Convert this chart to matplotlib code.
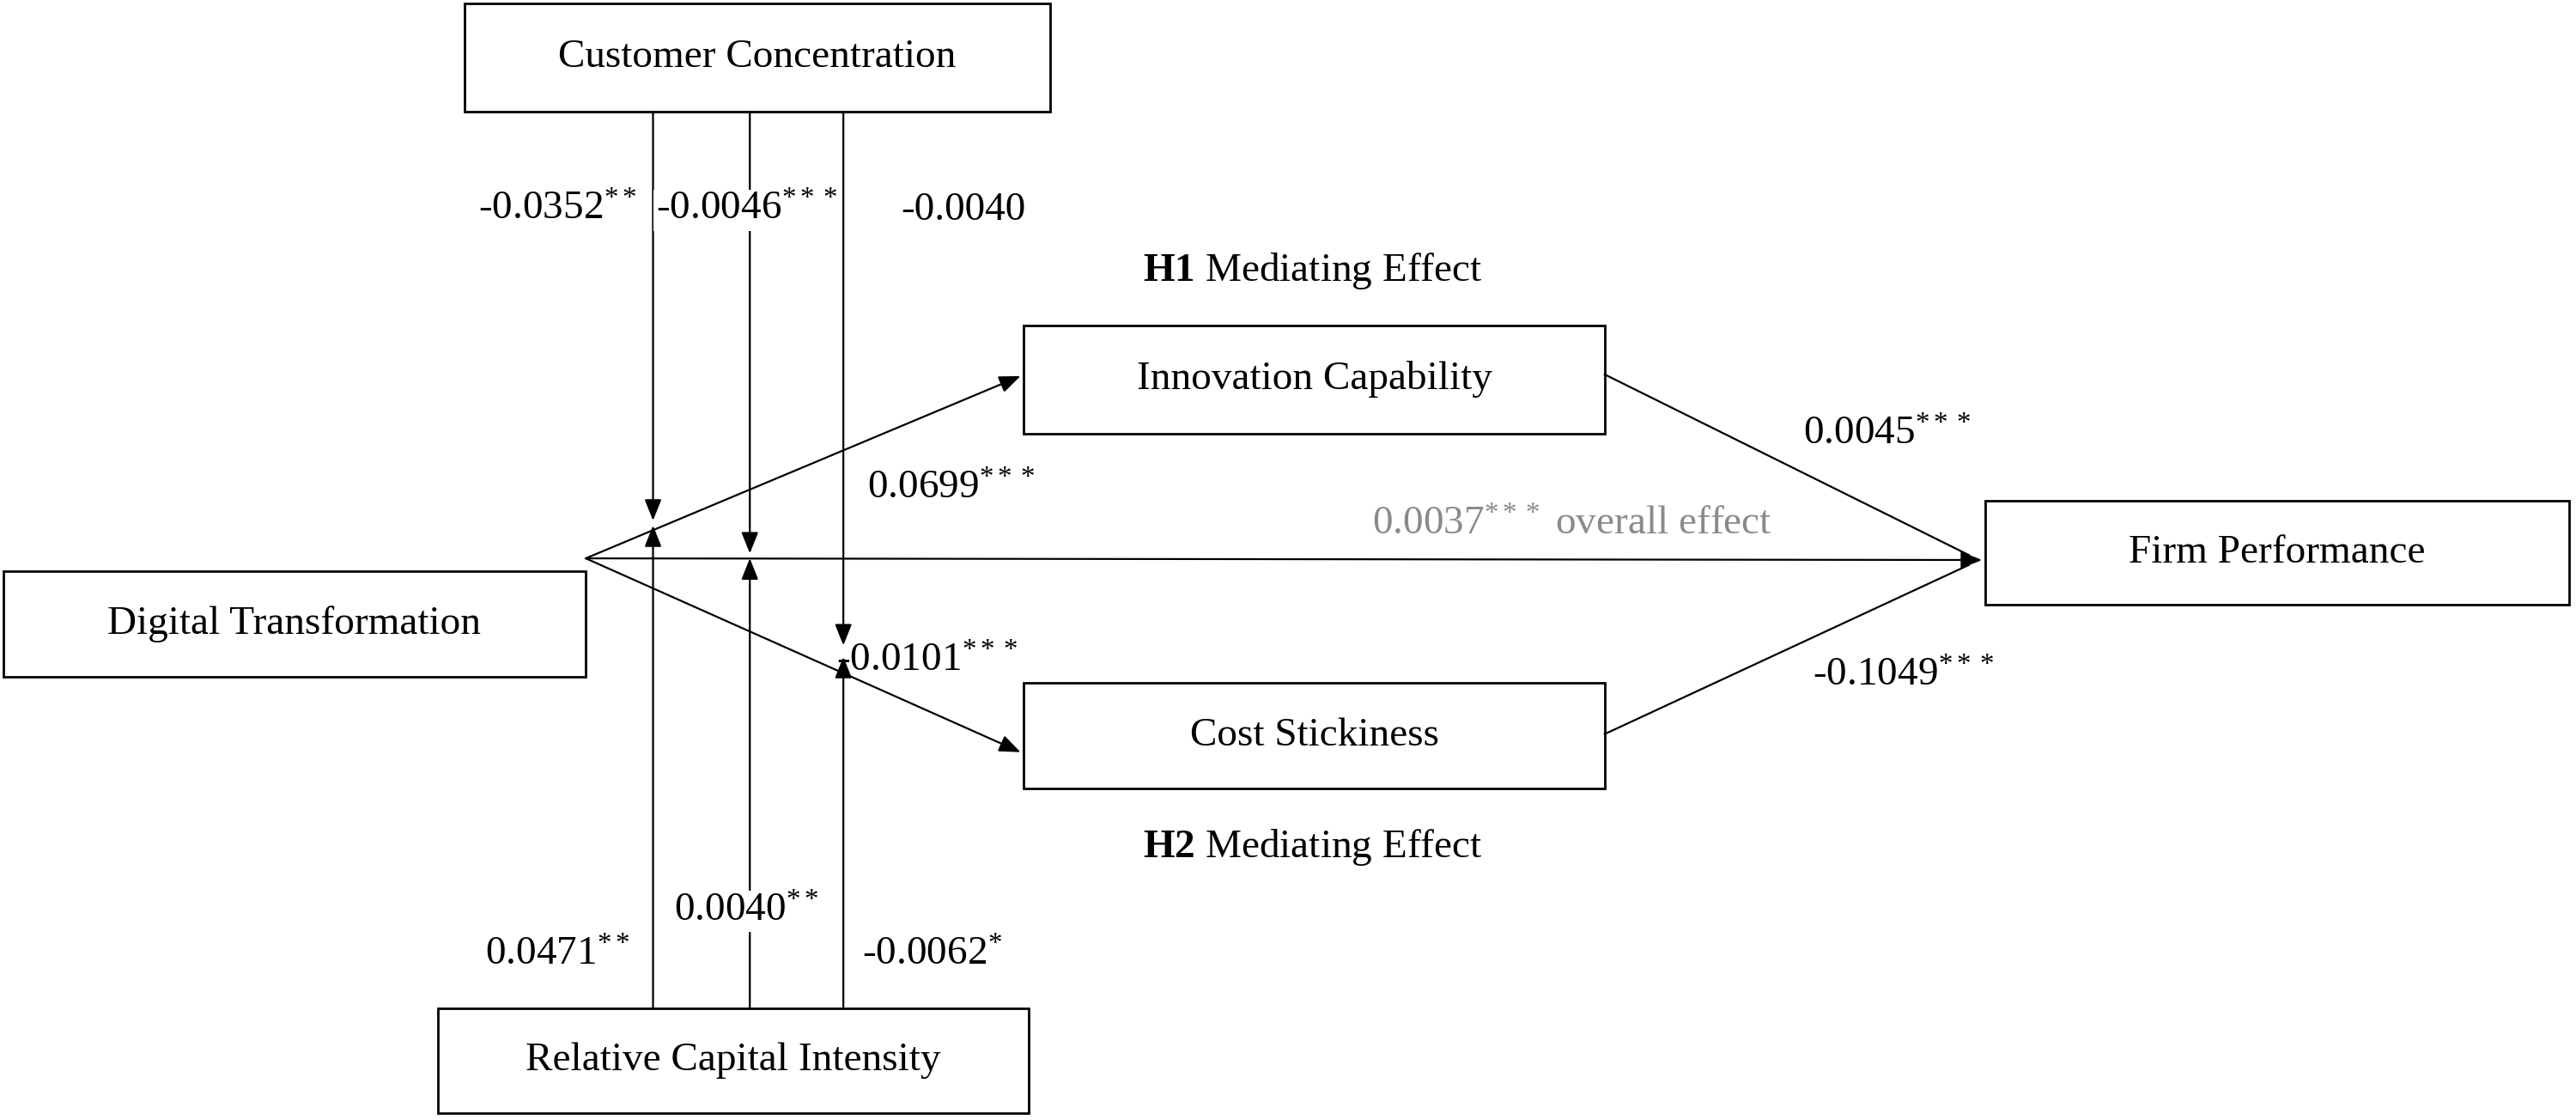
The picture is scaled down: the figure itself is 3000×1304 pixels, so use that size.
import matplotlib
matplotlib.use("Agg")
import matplotlib.pyplot as plt
from matplotlib.patches import Rectangle

plt.rcParams['font.family'] = ['Liberation Serif', 'DejaVu Serif']
plt.rcParams['mathtext.fontset'] = 'custom'
plt.rcParams['mathtext.rm'] = 'Liberation Serif'
plt.rcParams['mathtext.it'] = 'Liberation Serif'
plt.rcParams['mathtext.bf'] = 'Liberation Serif:bold'

# nodes: name, (x0, y0, x1, y1)
node_names = ["Customer Concentration", "Digital Transformation", "Innovation Capability",
              "Cost Stickiness", "Firm Performance", "Relative Capital Intensity"]
node_boxes = [(283, 2, 640, 68), (2, 348, 357, 412), (624, 198, 978, 264),
              (624, 416, 978, 480), (1210, 305, 1566, 368), (267, 614, 627, 678)]

coef_labels = [r"-0.0352$^{**}$", r"-0.0046$^{***}$", "-0.0040",
               r"0.0699$^{***}$", r"0.0045$^{***}$", r"-0.0101$^{***}$", r"-0.1049$^{***}$",
               r"0.0471$^{**}$", r"0.0040$^{**}$", r"-0.0062$^{*}$"]
coef_pos = [(340, 128), (455, 128), (587, 128), (580, 298), (1150, 265),
            (565, 403), (1160, 412), (340, 582), (455, 555), (568, 582)]
coef_bg = [False, True, False, False, False, False, False, False, True, False]

W, H = 1570, 682
fig = plt.figure(figsize=(30, 13.04), dpi=100)
ax = fig.add_axes([0, 0, 1, 1])
ax.set_xlim(0, W); ax.set_ylim(H, 0); ax.axis('off')
fs = 34

for name, (x0, y0, x1, y1) in zip(node_names, node_boxes):
    ax.add_patch(Rectangle((x0, y0), x1 - x0, y1 - y0, fill=False, lw=2, ec='black'))
    ax.text((x0 + x1) / 2, (y0 + y1) / 2, name, ha='center', va='center', fontsize=fs)

def arrow(p, q, lw=1.6):
    ax.annotate('', xy=q, xytext=p,
                arrowprops=dict(arrowstyle='-|>,head_length=1.5,head_width=0.6', lw=lw, color='black',
                                shrinkA=0, shrinkB=0))

def line(p, q, lw=1.6):
    ax.plot([p[0], q[0]], [p[1], q[1]], color='black', lw=lw)

o = (357, 340)
arrow(o, (622, 229))
arrow(o, (622, 458))
arrow(o, (1208, 341))
line((978, 228), (1200, 338))
line((978, 447), (1200, 344))

arrow((398, 68), (398, 317))
arrow((457, 68), (457, 337))
arrow((514, 68), (514, 393))
arrow((398, 614), (398, 320))
arrow((457, 614), (457, 340))
arrow((514, 614), (514, 400))

for t, (x, y), bg in zip(coef_labels, coef_pos, coef_bg):
    kw = dict(bbox=dict(fc='white', ec='none', pad=2)) if bg else {}
    ax.text(x, y, t, ha='center', va='center', fontsize=fs, zorder=5, **kw)

ax.text(958, 320, r"0.0037$^{***}$ overall effect", ha='center', va='center', fontsize=fs, color='#8a8a8a')
ax.text(800, 165, r"$\mathbf{H1}$ Mediating Effect", ha='center', va='center', fontsize=fs)
ax.text(800, 516, r"$\mathbf{H2}$ Mediating Effect", ha='center', va='center', fontsize=fs)

fig.savefig("out.png", dpi=100, facecolor='white')
